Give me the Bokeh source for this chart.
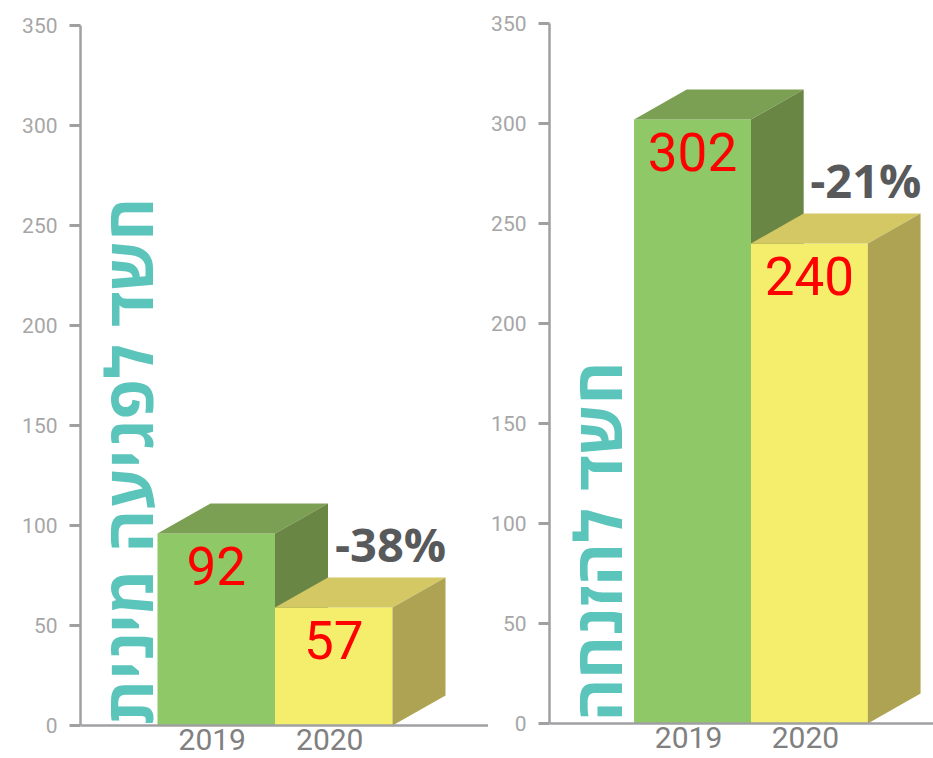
import math
from bokeh.plotting import figure
from bokeh.layouts import row
from bokeh.models import Range1d, FixedTicker, Span
from bokeh.core.properties import value
from bokeh.embed import file_html
from bokeh.resources import INLINE

# ---------------- data ----------------
years = ["2019", "2020"]
abuse_bar_heights = [96, 59]          # bar tops as drawn in the picture
abuse_labels = ["92", "57"]
abuse_change = "-38%"
neglect_bar_heights = [302, 240]
neglect_labels = ["302", "240"]
neglect_change = "-21%"
y_ticks = [0, 50, 100, 150, 200, 250, 300, 350]
titles = ["חשד לפגיעה מינית", "חשד להזנחה"]

# ---------------- style ----------------
FRONT = ["#8fc866", "#f4ee6c"]
TOP = ["#7b9f53", "#d4c865"]
SIDE = ["#6a8644", "#ada352"]
TEAL = "#5bc4bb"
AXIS = "#a0a0a3"
TICKLBL = "#a6a6a6"
YEAR = "#808080"
PCT = "#58595b"
NUMFONT = value("Roboto")

H = 758
BW = 117.5      # bar front width (px units on x)
DX = 53         # depth offset in x (px)
DY = 15         # depth offset in y (data units)


def panel(width, border_left, y_start, y_end, heights, labels, change, title,
          bar_x0, title_x, title_y):
    fw = width - border_left
    p = figure(width=width, height=H, output_backend="svg", toolbar_location=None,
               x_range=Range1d(0, fw), y_range=Range1d(y_start, y_end),
               x_axis_location=None, min_border_left=border_left,
               min_border_right=0, min_border_top=0, min_border_bottom=0)
    p.outline_line_color = None
    p.grid.visible = False
    p.background_fill_color = "white"
    p.border_fill_color = "white"

    ax = p.yaxis[0]
    ax.ticker = FixedTicker(ticks=y_ticks)
    ax.bounds = (0, 350)
    ax.minor_tick_line_color = None
    ax.axis_line_color = AXIS
    ax.axis_line_width = 2.5
    ax.major_tick_line_color = AXIS
    ax.major_tick_line_width = 3
    ax.major_tick_out = 11
    ax.major_tick_in = 0
    ax.major_label_standoff = 12
    ax.major_label_text_color = TICKLBL
    ax.major_label_text_font = "Roboto"
    ax.major_label_text_font_size = "21px"

    xs, ys, cs = [], [], []
    for i, h in enumerate(heights):
        x0 = bar_x0 + i * BW
        x1 = x0 + BW
        xs += [[x0, x1, x1, x0],
               [x0, x1, x1 + DX, x0 + DX],
               [x1, x1 + DX, x1 + DX, x1]]
        ys += [[0, 0, h, h],
               [h, h, h + DY, h + DY],
               [h, h + DY, DY, 0]]
        cs += [FRONT[i], TOP[i], SIDE[i]]
    p.patches(xs, ys, fill_color=cs, line_color=None)

    centers = [bar_x0 + i * BW + BW / 2 for i in range(len(heights))]
    p.text(x=centers, y=heights, text=labels, y_offset=32,
           text_align="center", text_baseline="alphabetic",
           text_color="#ff0000", text_font=NUMFONT, text_font_size="53px")

    p.text(x=[c - 4 for c in centers], y=[0, 0], text=years, y_offset=14,
           text_align="center", text_baseline="alphabetic",
           text_color=YEAR, text_font=NUMFONT, text_font_size="30px")

    p.text(x=[bar_x0 + 2 * BW - 2], y=[heights[1] + DY + 17], text=[change],
           text_align="center", text_baseline="alphabetic",
           text_color=PCT, text_font=value("Open Sans"), text_font_style="bold",
           text_font_size="47px")

    p.text(x=[title_x], y=[title_y], text=[title], angle=math.pi / 2,
           text_align="center", text_baseline="middle",
           text_color=TEAL, text_font=value("Open Sans"), text_font_style="bold",
           text_font_size="65px")

    p.add_layout(Span(location=0, dimension="width", line_color=AXIS,
                      line_width=2.5, level="overlay"))
    return p


left = panel(488, 80, -16.5, 362.5, abuse_bar_heights, abuse_labels, abuse_change,
             titles[0], 77, 47, 132)
right = panel(445, 59, -17.5, 361.5, neglect_bar_heights, neglect_labels, neglect_change,
              titles[1], 85, 48, 91)

layout = row(left, right)
open("out.html", "w").write(file_html(layout, INLINE, "chart"))
